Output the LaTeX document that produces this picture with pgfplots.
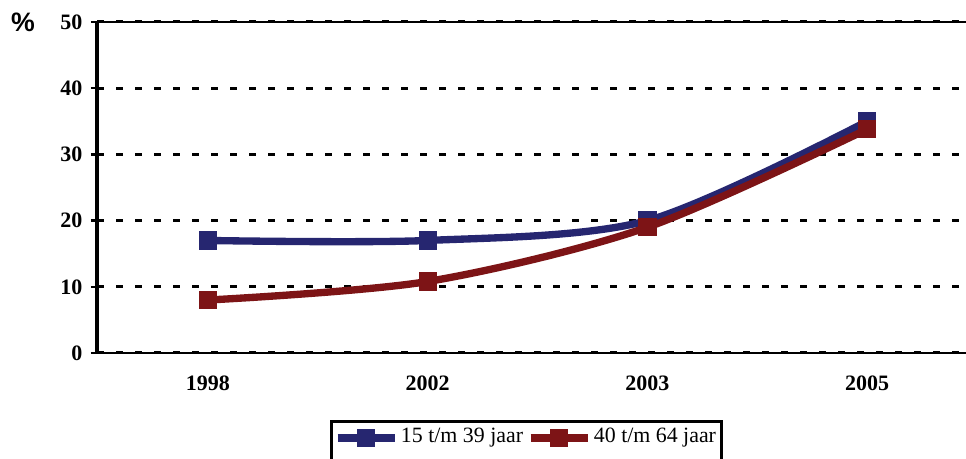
\documentclass[border=0pt]{standalone}
\usepackage{fontspec}
\setmainfont{Liberation Serif}
\newfontfamily\arialfont{Liberation Sans}
\usepackage{pgfplots}
\pgfplotsset{compat=1.18}
\definecolor{serieblue}{RGB}{38,38,112}
\definecolor{seriered}{RGB}{125,20,22}
\begin{document}
\begin{tikzpicture}
% 1px = 0.75pt; plot box from (97,22) to (966,353) in the 966x459 image
\begin{axis}[
  at={(72.75pt,79.5pt)}, anchor=south west,
  scale only axis, width=651.75pt, height=248.25pt,
  xmin=-0.505, xmax=3.45, ymin=0, ymax=50,
  axis x line*=bottom, axis y line*=left,
  x axis line style={line width=1.75pt},
  y axis line style={line width=2.5pt},
  xtick={0,1,2,3}, xticklabels={1998,2002,2003,2005},
  minor xtick={-0.5,0.5,1.5,2.5},
  ytick={0,10,...,50},
  tick align=outside,
  major tick length=4.5pt, minor tick length=4.5pt,
  xtick style={draw=none},
  minor tick style={draw=black,line width=1.75pt},
  ytick style={line width=1.75pt,black},
  ymajorgrids,
  major grid style={black,line width=2.25pt,dash pattern=on 5pt off 9.25pt},
  /pgf/number format/assume math mode=true,
  tick label style={font=\bfseries\fontsize{16.5}{19}\selectfont},
  xticklabel style={yshift=-9pt},
  yticklabel style={xshift=-3pt},
  legend columns=2,
  legend style={at={(0.268,-0.2024)}, anchor=north west,
    draw=black, line width=2.25pt, font=\fontsize{16.4}{19}\selectfont,
    /tikz/every even column/.append style={column sep=1pt},
    inner xsep=2pt, inner ysep=3pt,
    nodes={text depth=16pt}},
  legend image code/.code={\draw[mark repeat=2,mark phase=2,yshift=6pt,#1]
    plot coordinates {(0cm,0cm) (0.75cm,0cm) (1.5cm,0cm)};},
  clip=false,
]
\draw[black,line width=1.75pt] (axis cs:-0.505,50) -- (axis cs:3.45,50);
\addplot[serieblue, line width=5.5pt, smooth, mark=square*, mark size=6.5pt,
  mark options={solid,line width=0pt}]
  coordinates {(0,17) (1,17) (2,20) (3,35)};
\addplot[seriered, line width=5.5pt, smooth, mark=square*, mark size=6.5pt,
  mark options={solid,line width=0pt}]
  coordinates {(0,8) (1,10.8) (2,19) (3,33.8)};
\legend{15 t/m 39 jaar, 40 t/m 64 jaar}
\end{axis}
\node[font=\arialfont\bfseries\fontsize{20}{24}\selectfont] at (17.25pt,327.75pt) {\%};
\pgfresetboundingbox
\path[use as bounding box] (0,0) rectangle (724.5pt,344.25pt);
\end{tikzpicture}
\end{document}
